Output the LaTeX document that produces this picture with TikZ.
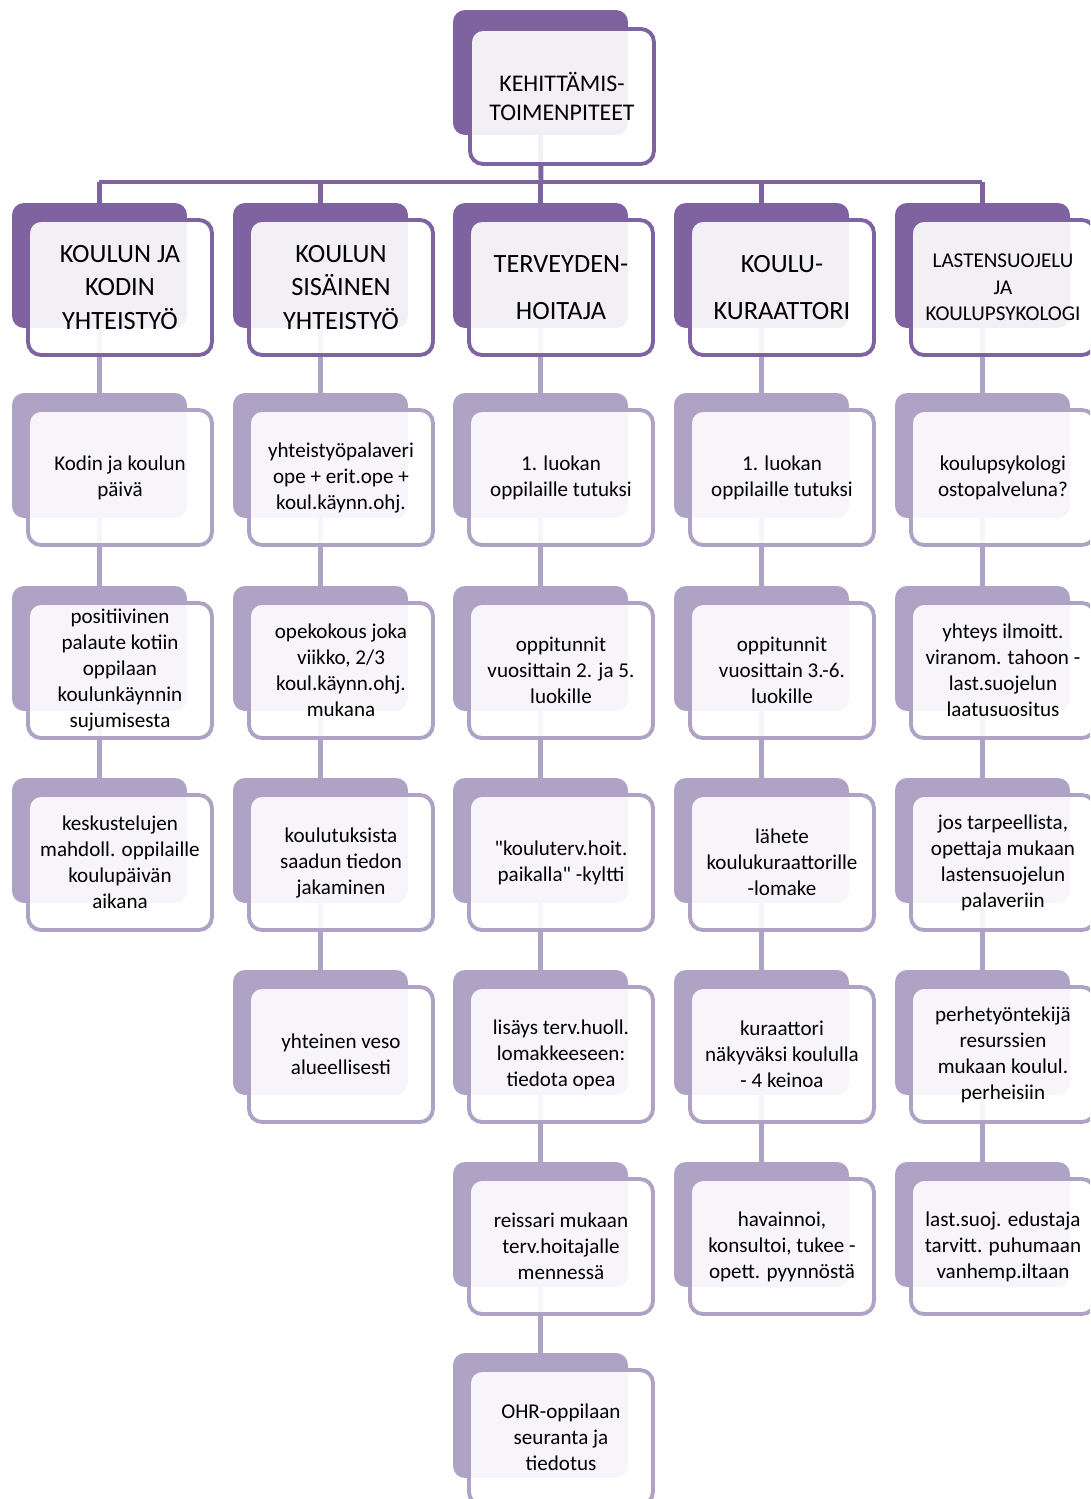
\documentclass[tikz,border=0pt]{standalone}
\usepackage{fontspec}
\setmainfont{Carlito}
\definecolor{tummaliila}{HTML}{7F63A1}
\definecolor{vaalealiila}{HTML}{AFA3C5}
\pgfdeclarelayer{tausta}
\pgfsetlayers{tausta,main}
\begin{document}
\begin{tikzpicture}[x=0.02cm,y=-0.02cm,
    taka/.style={rounded corners=0.24cm, minimum width=3.5cm, minimum height=2.5cm,
      anchor=north west, inner sep=0pt, outer sep=0pt},
    takaT/.style={taka, fill=tummaliila},
    takaV/.style={taka, fill=vaalealiila},
    etu/.style={rounded corners=0.26cm, minimum width=3.68cm, minimum height=2.7cm,
      anchor=north west, inner sep=1pt, outer sep=0pt, fill=white, fill opacity=0.9,
      text opacity=1, line width=2.2pt, align=center, text=black,
      font=\fontsize{12}{14.8}\selectfont},
    etuT/.style={etu, draw=tummaliila, font=\fontsize{15}{19}\selectfont},
    etuV/.style={etu, draw=vaalealiila},
    yhteysT/.style={line width=2.8pt, tummaliila},
    yhteysV/.style={line width=2.8pt, vaalealiila}]
    \useasboundingbox (0,0) rectangle (1090,1499);
    \clip (0,0) rectangle (1090,1499);
    % ylin laatikko
    \node[takaT] (kehb) at (453,10) {};
    \node[etuT, font=\fontsize{13.6}{16.4}\selectfont] (keh) at (470,29) {KEHITTÄMIS-\\TOIMENPITEET};
    \coordinate (haara) at (541,182);
    % otsikot
    \node[takaT] (kodin1b) at (12,203) {};
    \node[etuT] (kodin1) at (28,220) {KOULUN JA\\KODIN\\YHTEISTYÖ};
    \node[takaT] (sisa1b) at (233,203) {};
    \node[etuT] (sisa1) at (249,220) {KOULUN\\SISÄINEN\\YHTEISTYÖ};
    \node[takaT] (terv1b) at (453,203) {};
    \node[etuT, font=\fontsize{15}{26.6}\selectfont] (terv1) at (469,220) {TERVEYDEN-\\HOITAJA};
    \node[takaT] (kura1b) at (674,203) {};
    \node[etuT, font=\fontsize{15}{26.6}\selectfont] (kura1) at (690,220) {KOULU-\\KURAATTORI};
    \node[takaT] (last1b) at (895,203) {};
    \node[etuT, font=\fontsize{12}{15}\selectfont] (last1) at (911,220) {LASTENSUOJELU\\JA\\KOULUPSYKOLOGI};
    % kodin ja koulun yhteistyo
    \node[takaV] (kodin2b) at (12,393) {};
    \node[etuV] (kodin2) at (28,410) {Kodin ja koulun\\päivä};
    \node[takaV] (kodin3b) at (12,586) {};
    \node[etuV] (kodin3) at (28,603) {positiivinen\\palaute kotiin\\oppilaan\\koulunkäynnin\\sujumisesta};
    \node[takaV] (kodin4b) at (12,778) {};
    \node[etuV] (kodin4) at (28,795) {keskustelujen\\mahdoll. oppilaille\\koulupäivän\\aikana};
    % koulun sisainen yhteistyo
    \node[takaV] (sisa2b) at (233,393) {};
    \node[etuV] (sisa2) at (249,410) {yhteistyöpalaveri\\ope + erit.ope +\\koul.käynn.ohj.};
    \node[takaV] (sisa3b) at (233,586) {};
    \node[etuV] (sisa3) at (249,603) {opekokous joka\\viikko, 2/3\\koul.käynn.ohj.\\mukana};
    \node[takaV] (sisa4b) at (233,778) {};
    \node[etuV] (sisa4) at (249,795) {koulutuksista\\saadun tiedon\\jakaminen};
    \node[takaV] (sisa5b) at (233,970) {};
    \node[etuV] (sisa5) at (249,987) {yhteinen veso\\alueellisesti};
    % terveydenhoitaja
    \node[takaV] (terv2b) at (453,393) {};
    \node[etuV] (terv2) at (469,410) {1. luokan\\oppilaille tutuksi};
    \node[takaV] (terv3b) at (453,586) {};
    \node[etuV] (terv3) at (469,603) {oppitunnit\\vuosittain 2. ja 5.\\luokille};
    \node[takaV] (terv4b) at (453,778) {};
    \node[etuV] (terv4) at (469,795) {\textquotedbl kouluterv.hoit.\\paikalla\textquotedbl{} -kyltti};
    \node[takaV] (terv5b) at (453,970) {};
    \node[etuV] (terv5) at (469,987) {lisäys terv.huoll.\\lomakkeeseen:\\tiedota opea};
    \node[takaV] (terv6b) at (453,1162) {};
    \node[etuV] (terv6) at (469,1179) {reissari mukaan\\terv.hoitajalle\\mennessä};
    \node[takaV] (terv7b) at (453,1353) {};
    \node[etuV] (terv7) at (469,1370) {OHR-oppilaan\\seuranta ja\\tiedotus};
    % koulukuraattori
    \node[takaV] (kura2b) at (674,393) {};
    \node[etuV] (kura2) at (690,410) {1. luokan\\oppilaille tutuksi};
    \node[takaV] (kura3b) at (674,586) {};
    \node[etuV] (kura3) at (690,603) {oppitunnit\\vuosittain 3.-6.\\luokille};
    \node[takaV] (kura4b) at (674,778) {};
    \node[etuV] (kura4) at (690,795) {lähete\\koulukuraattorille\\-lomake};
    \node[takaV] (kura5b) at (674,970) {};
    \node[etuV] (kura5) at (690,987) {kuraattori\\näkyväksi koululla\\- 4 keinoa};
    \node[takaV] (kura6b) at (674,1162) {};
    \node[etuV] (kura6) at (690,1179) {havainnoi,\\konsultoi, tukee -\\opett. pyynnöstä};
    % lastensuojelu ja koulupsykologi
    \node[takaV] (last2b) at (895,393) {};
    \node[etuV] (last2) at (911,410) {koulupsykologi\\ostopalveluna?};
    \node[takaV] (last3b) at (895,586) {};
    \node[etuV] (last3) at (911,603) {yhteys ilmoitt.\\viranom. tahoon -\\last.suojelun\\laatusuositus};
    \node[takaV] (last4b) at (895,778) {};
    \node[etuV] (last4) at (911,795) {jos tarpeellista,\\opettaja mukaan\\lastensuojelun\\palaveriin};
    \node[takaV] (last5b) at (895,970) {};
    \node[etuV] (last5) at (911,987) {perhetyöntekijä\\resurssien\\mukaan koulul.\\perheisiin};
    \node[takaV] (last6b) at (895,1162) {};
    \node[etuV] (last6) at (911,1179) {last.suoj. edustaja\\tarvitt. puhumaan\\vanhemp.iltaan};
    % yhteydet
    \begin{pgfonlayer}{tausta}
    \draw[yhteysT] (kehb.south) -- (haara);
    \draw[yhteysT] (kodin1b.north |- haara) -- (last1b.north |- haara);
    \draw[yhteysT] (kodin1b.north |- haara) -- (kodin1b.north);
    \draw[yhteysT] (sisa1b.north |- haara) -- (sisa1b.north);
    \draw[yhteysT] (terv1b.north |- haara) -- (terv1b.north);
    \draw[yhteysT] (kura1b.north |- haara) -- (kura1b.north);
    \draw[yhteysT] (last1b.north |- haara) -- (last1b.north);
    \draw[yhteysV] (kodin1b.south) -- (kodin2b.north);
    \draw[yhteysV] (kodin2b.south) -- (kodin3b.north);
    \draw[yhteysV] (kodin3b.south) -- (kodin4b.north);
    \draw[yhteysV] (sisa1b.south) -- (sisa2b.north);
    \draw[yhteysV] (sisa2b.south) -- (sisa3b.north);
    \draw[yhteysV] (sisa3b.south) -- (sisa4b.north);
    \draw[yhteysV] (sisa4b.south) -- (sisa5b.north);
    \draw[yhteysV] (terv1b.south) -- (terv2b.north);
    \draw[yhteysV] (terv2b.south) -- (terv3b.north);
    \draw[yhteysV] (terv3b.south) -- (terv4b.north);
    \draw[yhteysV] (terv4b.south) -- (terv5b.north);
    \draw[yhteysV] (terv5b.south) -- (terv6b.north);
    \draw[yhteysV] (terv6b.south) -- (terv7b.north);
    \draw[yhteysV] (kura1b.south) -- (kura2b.north);
    \draw[yhteysV] (kura2b.south) -- (kura3b.north);
    \draw[yhteysV] (kura3b.south) -- (kura4b.north);
    \draw[yhteysV] (kura4b.south) -- (kura5b.north);
    \draw[yhteysV] (kura5b.south) -- (kura6b.north);
    \draw[yhteysV] (last1b.south) -- (last2b.north);
    \draw[yhteysV] (last2b.south) -- (last3b.north);
    \draw[yhteysV] (last3b.south) -- (last4b.north);
    \draw[yhteysV] (last4b.south) -- (last5b.north);
    \draw[yhteysV] (last5b.south) -- (last6b.north);
    \end{pgfonlayer}
\end{tikzpicture}
\end{document}
